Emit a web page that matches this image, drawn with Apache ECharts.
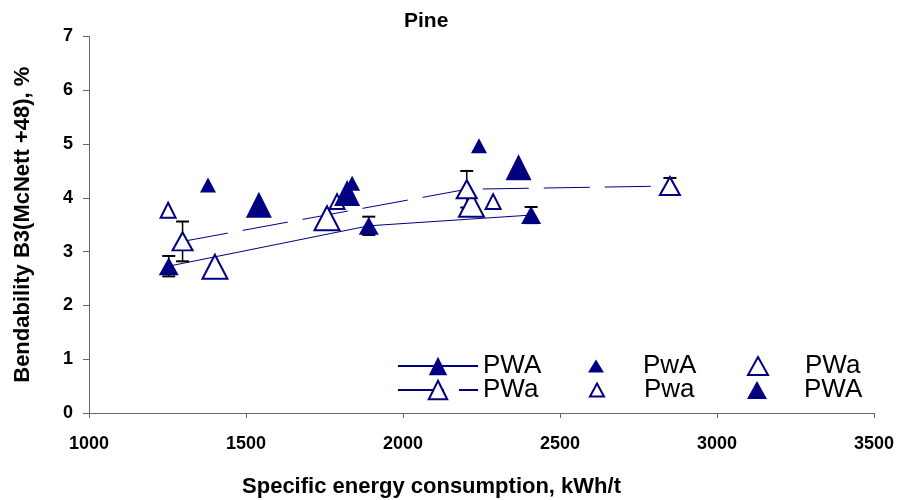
<!DOCTYPE html>
<html>
<head>
<meta charset="utf-8">
<script src="https://cdn.jsdelivr.net/npm/echarts@6/dist/echarts.min.js"></script>
<style>
  html, body { margin: 0; padding: 0; background: #fff; }
  #chart { width: 898px; height: 500px; }
</style>
</head>
<body>
<div id="chart"></div>
<script>
// Pine - bendability vs specific energy consumption
var NAVY = '#000080';
var FONT = 'Liberation Sans, Arial, sans-serif';

// PWA (solid line, error bars)
var pwaLineX = [1254, 1891, 2408];
var pwaLineY = [2.73, 3.48, 3.68];
var pwaLineErr = [0.19, 0.17, 0.15];
// PWa (dashed line, error bars)
var pwaDashX = [1298, 2203, 2850];
var pwaDashY = [3.19, 4.16, 4.22];
var pwaDashErr = [0.37, 0.34, 0.15];
// PwA small filled
var pwASmallX = [1379, 1838, 2242];
var pwASmallY = [4.24, 4.27, 4.97];
// Pwa small open
var pwaSmallX = [1252, 1790, 2287];
var pwaSmallY = [3.77, 3.93, 3.93];
// PWa large open
var pWaBigX = [1401, 1758, 2218];
var pWaBigY = [2.72, 3.62, 3.87];
// PWA large filled
var pWABigX = [1541, 1822, 2368];
var pWABigY = [3.87, 4.09, 4.57];

var xTicks = [1000, 1500, 2000, 2500, 3000, 3500];
var yTicks = [0, 1, 2, 3, 4, 5, 6, 7];

function pairs(xs, ys) {
  return xs.map(function (x, i) { return [x, ys[i]]; });
}
function bars(xs, ys, es) {
  return xs.map(function (x, i) { return [x, ys[i] - es[i], ys[i] + es[i]]; });
}

function renderErrorBar(params, api) {
  var x = api.value(0);
  var top = api.coord([x, api.value(2)]);
  var bot = api.coord([x, api.value(1)]);
  var half = 6.5;
  var capStyle = { stroke: '#000', lineWidth: 2 };
  return {
    type: 'group',
    children: [
      { type: 'line', shape: { x1: top[0], y1: top[1], x2: bot[0], y2: bot[1] }, style: { stroke: '#000', lineWidth: 1.5 } },
      { type: 'line', shape: { x1: top[0] - half, y1: top[1], x2: top[0] + half, y2: top[1] }, style: capStyle },
      { type: 'line', shape: { x1: bot[0] - half, y1: bot[1], x2: bot[0] + half, y2: bot[1] }, style: capStyle }
    ]
  };
}

var openStyle = { color: '#fff', borderColor: NAVY, borderWidth: 2, opacity: 1 };
var filledStyle = { color: NAVY, opacity: 1 };

// one legend box per entry so each can sit where the original has it
function legendItem(name, left, top, w, h, textPad, icon) {
  var d = { name: name };
  if (icon) d.icon = icon;
  return {
    data: [d],
    left: left,
    top: top,
    padding: 0,
    itemWidth: w,
    itemHeight: h,
    symbolKeepAspect: false,
    selectedMode: false,
    formatter: function (n) { return n.trim(); },
    textStyle: { fontFamily: FONT, fontSize: 26, color: '#000', padding: [0, 0, 0, textPad] }
  };
}

var myChart = echarts.init(document.getElementById('chart'));
var option = {
  animation: false,
  backgroundColor: '#fff',
  title: {
    text: 'Pine',
    left: 404,
    top: 11,
    padding: 0,
    textStyle: { fontFamily: FONT, fontSize: 21, fontWeight: 'bold', color: '#000' }
  },
  grid: { left: 89, right: 24, top: 36.5, bottom: 87, outerBoundsMode: 'none' },
  legend: [
    legendItem('PWA', 397, 353, 80, 23, 0),
    legendItem('PWa', 397, 377, 80, 23, 0),
    legendItem('PwA', 588, 353, 16, 13, 34, 'triangle'),
    legendItem('Pwa', 589, 377, 14, 13, 35, 'triangle'),
    legendItem('PWa ', 747, 353, 20, 18, 32, 'triangle'),
    legendItem('PWA ', 747, 377, 20, 18, 32, 'triangle')
  ],
  xAxis: {
    type: 'value',
    min: xTicks[0],
    max: xTicks[xTicks.length - 1],
    interval: 500,
    name: 'Specific energy consumption, kWh/t',
    nameLocation: 'middle',
    nameGap: 63,
    nameTextStyle: { fontFamily: FONT, fontSize: 22, fontWeight: 'bold', color: '#000', padding: [0, 100, 0, 0] },
    splitLine: { show: false },
    axisLine: { lineStyle: { color: '#666', width: 1 } },
    axisTick: { show: true, length: 5, lineStyle: { color: '#666' } },
    axisLabel: {
      margin: 22, fontFamily: FONT, fontSize: 18, fontWeight: 'bold', color: '#000',
      formatter: function (v) { return String(v); }
    }
  },
  yAxis: {
    type: 'value',
    min: yTicks[0],
    max: yTicks[yTicks.length - 1],
    interval: 1,
    name: 'Bendability B3(McNett +48), %',
    nameLocation: 'middle',
    nameGap: 55,
    nameTextStyle: { fontFamily: FONT, fontSize: 22, fontWeight: 'bold', color: '#000' },
    splitLine: { show: false },
    axisLine: { show: true, lineStyle: { color: '#666', width: 1 } },
    axisTick: { show: true, length: 6, lineStyle: { color: '#666' } },
    axisLabel: { margin: 16, fontFamily: FONT, fontSize: 18, fontWeight: 'bold', color: '#000' }
  },
  series: [
    {
      type: 'custom',
      renderItem: renderErrorBar,
      encode: { x: 0, y: [1, 2] },
      data: bars(pwaLineX, pwaLineY, pwaLineErr).concat(bars(pwaDashX, pwaDashY, pwaDashErr)),
      z: 1,
      silent: true
    },
    {
      name: 'PWA',
      type: 'line',
      data: pairs(pwaLineX, pwaLineY),
      symbol: 'triangle',
      symbolSize: [20, 18],
      itemStyle: filledStyle,
      lineStyle: { color: NAVY, width: 1 },
      z: 3
    },
    {
      name: 'PwA',
      type: 'scatter',
      data: pairs(pwASmallX, pwASmallY),
      symbol: 'triangle',
      symbolSize: [16, 15],
      itemStyle: filledStyle,
      z: 3
    },
    {
      name: 'PWa ',
      type: 'scatter',
      data: pairs(pWaBigX, pWaBigY),
      symbol: 'triangle',
      symbolSize: [25, 24],
      itemStyle: openStyle,
      z: 3
    },
    {
      name: 'PWa',
      type: 'line',
      data: pairs(pwaDashX, pwaDashY),
      symbol: 'triangle',
      symbolSize: [20, 18],
      itemStyle: openStyle,
      lineStyle: { color: NAVY, width: 1, type: [46, 15] },
      z: 3
    },
    {
      name: 'Pwa',
      type: 'scatter',
      data: pairs(pwaSmallX, pwaSmallY),
      symbol: 'triangle',
      symbolSize: [15, 15],
      itemStyle: openStyle,
      z: 3
    },
    {
      name: 'PWA ',
      type: 'scatter',
      data: pairs(pWABigX, pWABigY),
      symbol: 'triangle',
      symbolSize: [26, 26],
      itemStyle: filledStyle,
      z: 3
    }
  ]
};
myChart.setOption(option);
</script>
</body>
</html>
